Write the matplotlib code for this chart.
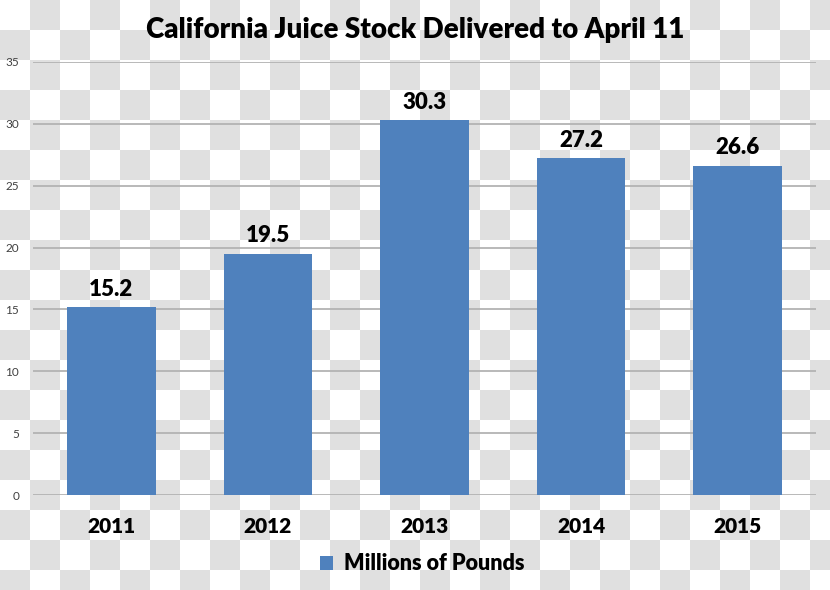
import numpy as np
import matplotlib
matplotlib.use('Agg')
import matplotlib.pyplot as plt

years = ['2011', '2012', '2013', '2014', '2015']
pounds = [15.2, 19.5, 30.3, 27.2, 26.6]
yticks = [0, 5, 10, 15, 20, 25, 30, 35]

plt.rcParams['font.family'] = ['Lato', 'DejaVu Sans']

W, H = 830, 590
fig = plt.figure(figsize=(W / 100, H / 100), dpi=100)

# checkerboard backdrop (30 px squares)
sq = 30
rows = np.arange(H) // sq
cols = np.arange(W) // sq
board = (rows[:, None] + cols[None, :]) % 2
bg = np.where(board[..., None] == 1, 224 / 255, 1.0) * np.ones((1, 1, 3))
fig.figimage(bg, xo=0, yo=0, origin='upper', zorder=-10)
fig.patch.set_alpha(0)

ax = fig.add_axes([33 / W, 1 - 495 / H, (816 - 33) / W, (495 - 62) / H])
ax.patch.set_alpha(0)

x = np.arange(len(years))
bars = ax.bar(x, pounds, width=0.567, color='#4f81bd', zorder=3,
              label='Millions of Pounds')

ax.set_xlim(-0.5, len(years) - 0.5)
ax.set_ylim(0, 35)
ax.set_yticks(yticks)
ax.yaxis.grid(True, color='#b3b3b3', linewidth=1.3, zorder=1)
ax.set_axisbelow(True)
for s in ax.spines.values():
    s.set_visible(False)
ax.tick_params(axis='y', length=0, labelsize=8.5, labelcolor='#404040', pad=10)
ax.tick_params(axis='x', length=0, labelsize=15, pad=16)
ax.set_xticks(x)
ax.set_xticklabels(years, fontweight='heavy')

for b, v in zip(bars, pounds):
    ax.text(b.get_x() + b.get_width() / 2, v + 0.6, f'{v:.1f}',
            ha='center', va='bottom', fontsize=16, fontweight='heavy')

fig.text(0.5, 1 - 30 / H, 'California Juice Stock Delivered to April 11',
         ha='center', va='center', fontsize=20, fontweight='heavy')

leg = ax.legend(loc='center', bbox_to_anchor=(0.497, (495 - 564) / (495 - 62)),
                frameon=False, fontsize=15.5, handlelength=0.6, handleheight=0.6,
                handletextpad=0.5)
for t in leg.get_texts():
    t.set_fontweight('heavy')

fig.savefig('out.png', dpi=100)
